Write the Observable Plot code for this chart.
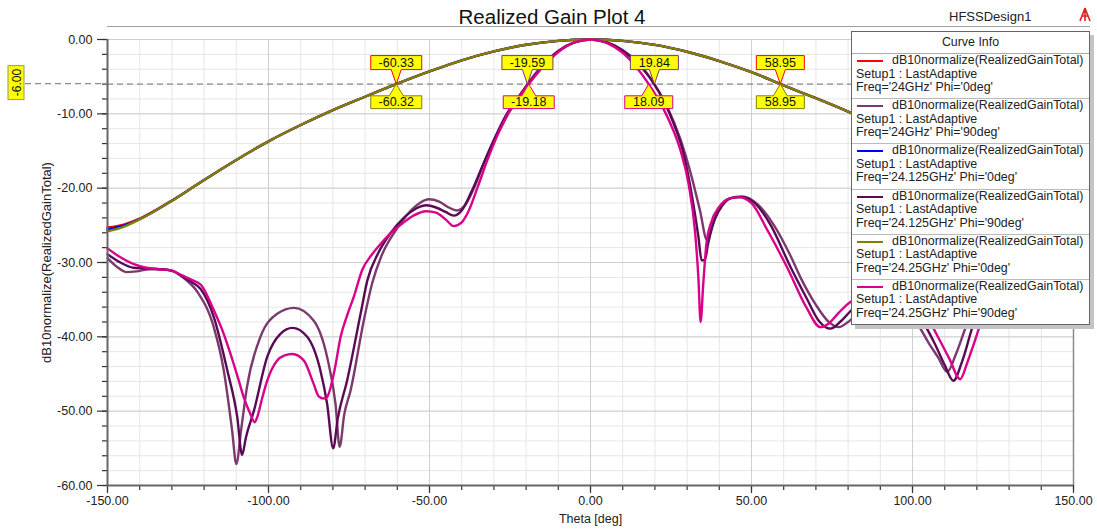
<!DOCTYPE html>
<html><head><meta charset="utf-8">
<script src="https://cdn.jsdelivr.net/npm/d3@7"></script>
<script src="https://cdn.jsdelivr.net/npm/@observablehq/plot@0.6"></script>
<style>
body{margin:0;background:#fff;font-family:"Liberation Sans",Arial,sans-serif;}
#wrap{position:relative;width:1097px;height:529px;overflow:hidden;background:#fff;}
#chart{position:absolute;left:0;top:0;}
#title{position:absolute;top:5px;left:352px;width:400px;text-align:center;font-size:20.5px;line-height:24px;color:#111;}
#design{position:absolute;top:9px;left:949px;font-size:13px;line-height:16px;color:#222;}
#icon{position:absolute;top:7px;left:1078px;}
#legend{position:absolute;left:851px;top:31px;width:237px;border:1px solid #666;background:#fff;box-shadow:4px 4px 0 #c4c4c4;font-size:12.4px;color:#222;}
#legend .hdr{height:21px;line-height:21px;text-align:center;border-bottom:1px solid #aaa;}
#legend .ent{position:relative;height:44.2px;border-bottom:1px solid #bbb;}
#legend .ent:last-child{border-bottom:none;}
#legend .smp{position:absolute;left:5px;top:6px;width:26px;height:2px;}
#legend .l{line-height:13.5px;white-space:nowrap;padding-left:4px;}
#legend .l1{padding-left:40px;}
</style></head><body>
<div id="wrap">
  <div id="chart"></div>
  <div id="title">Realized Gain Plot 4</div>
  <div id="design">HFSSDesign1</div>
  <svg id="icon" width="14" height="16" viewBox="0 0 14 16"><path d="M7 1 L2 14 M7 1 L12 14 M7 1 L7 14 M4 9 L10 9" stroke="#d22" stroke-width="1.6" fill="none"/></svg>
  <div id="legend"></div>
</div>
<script>
// ---------- data ----------
const xMajor = [-150, -100, -50, 0, 50, 100, 150];
const xMinor = d3.range(-150, 151, 10);
const yMajor = [0, -10, -20, -30, -40, -50, -60];
const yMinor = d3.range(-60, 1, 2);
const refLevel = -6;

// Phi = 0 cuts (common theta grid)
const theta0 = [-150,-145,-140,-135,-130,-125,-120,-110,-100,-90,-80,-70,-60,-50,-40,-30,-20,-10,0,10,20,30,40,50,60,70,80,90,100,110,120,130,140,150];
const gain24_phi0 =     [-25.3,-24.9,-24.1,-22.95,-21.65,-20.3,-18.9,-16.2,-13.7,-11.5,-9.5,-7.7,-5.95,-4.3,-2.8,-1.6,-0.7,-0.18,0,-0.18,-0.72,-1.65,-2.9,-4.4,-6.18,-7.9,-9.7,-11.6,-13.8,-16.3,-18.9,-21.7,-24.1,-25.3];
const gain24125_phi0 =  [-25.55,-25.05,-24.15,-23.0,-21.7,-20.3,-18.9,-16.2,-13.7,-11.5,-9.5,-7.7,-5.95,-4.3,-2.8,-1.6,-0.7,-0.18,0,-0.18,-0.72,-1.65,-2.9,-4.4,-6.18,-7.9,-9.7,-11.6,-13.8,-16.3,-18.95,-21.75,-24.2,-25.55];
const gain2425_phi0 =   [-25.8,-25.2,-24.2,-23.0,-21.7,-20.3,-18.9,-16.2,-13.7,-11.5,-9.5,-7.7,-5.95,-4.3,-2.8,-1.6,-0.7,-0.18,0,-0.18,-0.72,-1.65,-2.9,-4.4,-6.18,-7.9,-9.7,-11.6,-13.8,-16.3,-19.0,-21.8,-24.3,-25.8];

// Phi = 90 cuts ([theta, dB])
const gain24_phi90 = [[-150,-29.4],[-147,-30.6],[-144,-31.3],[-141,-31.2],[-137,-30.9],[-133,-30.9],[-129.5,-31.2],[-126,-32.2],[-122,-34.0],[-117,-38.7],[-113.9,-44.5],[-111.3,-52.6],[-110,-57.1],[-108.5,-52.5],[-106.7,-46.8],[-102.5,-40.0],[-97.3,-36.9],[-92.1,-36.1],[-86,-37.8],[-81.8,-42.7],[-79.2,-49.0],[-77.9,-54.8],[-76.5,-50.5],[-74.5,-47.2],[-70.4,-37.8],[-67.8,-32.8],[-65,-29.2],[-61,-26.0],[-57,-23.6],[-53,-22.0],[-50.3,-21.5],[-47,-21.8],[-44,-22.6],[-41.5,-23.0],[-39,-22.3],[-36,-19.8],[-33,-16.5],[-29,-12.8],[-25,-9.6],[-22,-7.7],[-19.59,-6.0],[-15,-3.5],[-10,-1.5],[-5,-0.4],[0,0],[5,-0.35],[10,-1.4],[15,-3.2],[19.84,-6.0],[24,-9.2],[28,-13.5],[31,-17.8],[34,-23],[36.2,-27.0],[38,-24.8],[40,-22.7],[43,-21.4],[47,-21.1],[52,-22.2],[57,-25.0],[62,-29.0],[65.2,-32.0],[70,-35.7],[74,-38.0],[77.1,-38.7],[80,-38.0],[84,-36.4],[88,-35.5],[92,-35.4],[96,-36.2],[101.4,-38.2],[105,-40.8],[108,-42.8],[110.8,-44.7],[113.5,-42.3],[117,-38.2],[121,-34.8],[127,-32.3],[134,-31.0],[142,-30.5],[150,-30.0]];
const gain24125_phi90 = [[-150,-28.9],[-146,-30.0],[-142,-30.7],[-138,-30.8],[-134,-30.9],[-130,-31.1],[-127,-31.8],[-124,-32.6],[-121,-33.6],[-117,-37.3],[-112.8,-44.5],[-109.7,-50.8],[-108.2,-55.9],[-107,-53.5],[-104.5,-49.9],[-100.4,-42.7],[-96.3,-39.6],[-92.6,-38.8],[-88,-40.0],[-83.9,-44.5],[-81.8,-49.0],[-79.9,-55.0],[-78.5,-51],[-75.6,-45.9],[-71.4,-36.9],[-69.3,-32.4],[-66,-28.8],[-62,-26.0],[-58,-24.0],[-54,-22.7],[-51,-22.3],[-48,-22.6],[-45,-23.2],[-42.5,-23.7],[-40,-23.0],[-37,-20.5],[-34,-17.5],[-30,-13.5],[-26,-10.0],[-23,-8.1],[-19.4,-6.0],[-15,-3.7],[-10,-1.6],[-5,-0.4],[0,0],[5,-0.4],[10,-1.5],[15,-3.4],[19,-5.5],[23,-8.5],[26,-11.5],[29,-15.5],[31.5,-21],[33.5,-26.5],[34.5,-29.7],[35.5,-29.7],[36.5,-27.5],[38.5,-24.3],[41,-22.3],[44,-21.3],[47,-21.2],[51,-22.0],[56,-25.0],[62,-30.5],[67,-34.7],[71,-37.9],[74.5,-38.9],[78,-37.8],[82,-36.0],[86,-35.0],[90,-34.6],[94,-35.0],[98,-36.2],[103.5,-38.2],[107,-41],[110,-43.8],[112.7,-45.9],[115.5,-43.2],[119,-38.2],[123,-34.8],[128,-32.4],[134,-31],[141,-30.2],[150,-29.3]];
const gain2425_phi90 = [[-150,-28.1],[-146,-29.3],[-142,-30.2],[-138,-30.7],[-134,-30.9],[-130,-31.1],[-127,-31.7],[-124,-32.3],[-121,-33.0],[-117,-36.4],[-114,-39.5],[-111.8,-42.3],[-109.5,-45.5],[-107.7,-48.1],[-105.5,-50.5],[-104.3,-51.5],[-103.5,-50.8],[-102,-48.3],[-100.4,-45.9],[-97.3,-43.2],[-95,-42.5],[-92.6,-42.3],[-89,-43.2],[-86,-46.3],[-84.4,-48.0],[-82.8,-48.3],[-81.8,-48.1],[-79.5,-44.5],[-77.6,-40.0],[-75.5,-37.0],[-73.5,-34.6],[-70.9,-31.0],[-68,-29.0],[-65,-27.4],[-62,-26.0],[-58,-24.6],[-55,-23.7],[-51,-23.1],[-48,-23.3],[-45,-24.2],[-42.5,-25.1],[-40,-24.6],[-38,-23.2],[-35,-19.8],[-32,-16.2],[-29,-13.0],[-26,-10.3],[-23,-8.2],[-19.18,-6.0],[-15,-3.8],[-10,-1.7],[-5,-0.4],[0,0],[5,-0.45],[10,-1.8],[14,-3.6],[18.09,-6.0],[22,-8.8],[25,-11.5],[28,-15.0],[30.5,-19.5],[32.5,-26],[33.5,-32],[34.2,-38.0],[35,-33],[36,-27.5],[37.5,-24.6],[40,-22.5],[43,-21.4],[46,-21.2],[50,-22.0],[55,-25.7],[61,-30.6],[67,-36.0],[71.4,-38.7],[74,-38.2],[77,-36.8],[80.7,-35.3],[84,-34.6],[88,-34.2],[92,-34.0],[96,-34.3],[100,-35.5],[105.6,-38.2],[108.5,-40.5],[111.5,-43],[114.8,-45.7],[117,-43.5],[119,-41],[121.2,-38.2],[125,-34.5],[130,-32.0],[136,-30.5],[143,-29.6],[150,-28.6]];

const seriesNames = ["Freq='24GHz' Phi='0deg'","Freq='24GHz' Phi='90deg'","Freq='24.125GHz' Phi='0deg'","Freq='24.125GHz' Phi='90deg'","Freq='24.25GHz' Phi='0deg'","Freq='24.25GHz' Phi='90deg'"];
const seriesColors = ["#ff0000","#7b3a6b","#0000ff","#580a55","#808000","#d9008a"];

// markers at the -6 dB level
const markerTheta = [-60.33, -60.32, -19.59, -19.18, 19.84, 18.09, 58.95, 58.95];
const markerLabel = ["-60.33","-60.32","-19.59","-19.18","19.84","18.09","58.95","58.95"];
const markerSeries = [0, 4, 1, 5, 1, 5, 0, 4];
const markerUp = [true, false, true, false, true, false, true, false];

// ---------- build ----------
const phi0Rows = (vals) => theta0.map((t, i) => ({theta: t, db: vals[i]}));
const pairRows = (arr) => arr.map(([t, v]) => ({theta: t, db: v}));
const series = [
  phi0Rows(gain24_phi0), pairRows(gain24_phi90),
  phi0Rows(gain24125_phi0), pairRows(gain24125_phi90),
  phi0Rows(gain2425_phi0), pairRows(gain2425_phi90)
];
const markers = markerTheta.map((t, i) => ({theta: t, db: refLevel, label: markerLabel[i], color: seriesColors[markerSeries[i]], up: markerUp[i]}));

function calloutSym(w, up) {
  const h = w / 2;
  return {draw(ctx) {
    if (up) {
      ctx.moveTo(0,0); ctx.lineTo(5,-14.5); ctx.lineTo(h,-14.5); ctx.lineTo(h,-28.5);
      ctx.lineTo(-h,-28.5); ctx.lineTo(-h,-14.5); ctx.lineTo(-5,-14.5); ctx.closePath();
    } else {
      ctx.moveTo(0,0); ctx.lineTo(7,11.7); ctx.lineTo(h,11.7); ctx.lineTo(h,24.5);
      ctx.lineTo(-h,24.5); ctx.lineTo(-h,11.7); ctx.lineTo(-7,11.7); ctx.closePath();
    }
  }};
}
const markerMarks = [];
for (const up of [true, false]) {
  for (const len of [5, 6]) {
    const sub = markers.filter(d => d.up === up && d.label.length === len);
    if (!sub.length) continue;
    markerMarks.push(Plot.dot(sub, {x: "theta", y: "db", r: 3, symbol: calloutSym(len === 6 ? 51 : 48, up), fill: "#ffff00", stroke: d => d.color, strokeWidth: 1}));
    markerMarks.push(Plot.text(sub, {x: "theta", y: "db", text: "label", dy: up ? -21.5 : 18.2, fill: "#111", fontSize: 12.5}));
  }
}

const lineMarks = series.map((rows, i) => Plot.line(rows, {x: "theta", y: "db", stroke: seriesColors[i], strokeWidth: 2.4, curve: "monotone-x"}));

const chart = Plot.plot({
  width: 1097, height: 529,
  marginLeft: 107, marginRight: 24, marginTop: 39, marginBottom: 44,
  x: {domain: [-150, 150]},
  y: {domain: [-60, 0]},
  color: {type: "identity"},
  style: {fontFamily: "'Liberation Sans', Arial, sans-serif", fontSize: "12.5px", background: "transparent", color: "#333", overflow: "visible"},
  marks: [
    Plot.ruleX(xMinor, {stroke: "#e6e6e6", strokeWidth: 1}),
    Plot.ruleY(yMinor, {stroke: "#e6e6e6", strokeWidth: 1}),
    Plot.ruleX(xMajor, {stroke: "#cfcfcf", strokeWidth: 1}),
    Plot.ruleY(yMajor, {stroke: "#cfcfcf", strokeWidth: 1}),
    Plot.axisY(yMinor, {anchor: "left", tickSize: 5, tickFormat: () => "", label: null, strokeWidth: 1.2}),
    Plot.axisY(yMajor, {anchor: "left", tickSize: 10, tickPadding: 5, tickFormat: d => d.toFixed(2), label: null, strokeWidth: 1.2, fill: "#222", fontSize: 12.5}),
    Plot.axisX(xMinor, {anchor: "bottom", tickSize: 5, tickFormat: () => "", label: null, strokeWidth: 1.2}),
    Plot.axisX(xMajor, {anchor: "bottom", tickSize: 8, tickPadding: 3, tickFormat: d => d.toFixed(2), label: null, strokeWidth: 1.2, fill: "#222", fontSize: 12.5}),
    Plot.ruleX([150], {stroke: "#8a8a8a", strokeWidth: 1.5}),
    Plot.ruleY([refLevel], {stroke: "#8c8c8c", strokeWidth: 1.2, strokeDasharray: "6,4"}),
    ...lineMarks,
    Plot.ruleX([-150], {stroke: "#666", strokeWidth: 2}),
    Plot.ruleY([-60], {stroke: "#666", strokeWidth: 2}),
    ...markerMarks,
    Plot.text(["dB10normalize(RealizedGainTotal)"], {frameAnchor: "left", dx: -61, rotate: -90, textAnchor: "middle", lineAnchor: "middle", fill: "#222", fontSize: 13}),
    Plot.text(["Theta [deg]"], {frameAnchor: "bottom", dy: 33, textAnchor: "middle", lineAnchor: "middle", fill: "#222", fontSize: 12.5})
  ]
});
document.getElementById("chart").appendChild(chart);

// reference-level annotation on the left, placed with the chart's y scale
const ys = chart.scale("y");
const yScale = d3.scaleLinear(ys.domain, ys.range);
const xs = chart.scale("x");
const xScale = d3.scaleLinear(xs.domain, xs.range);
const svg = d3.select(chart);
const y6 = yScale(refLevel);
const ann = svg.append("g");
ann.append("line").attr("x1", 25).attr("x2", xScale(-150)).attr("y1", y6).attr("y2", y6)
  .attr("stroke", "#8c8c8c").attr("stroke-width", 1.2).attr("stroke-dasharray", "6,4");
ann.append("rect").attr("x", 8).attr("y", y6 - 18).attr("width", 16).attr("height", 34)
  .attr("fill", "#ffff00").attr("stroke", "#9a9a60").attr("stroke-width", 1);
ann.append("text").attr("transform", `translate(16.5,${y6 - 1}) rotate(-90)`).attr("text-anchor", "middle")
  .attr("dominant-baseline", "central").attr("font-size", 12).attr("fill", "#111").text(refLevel.toFixed(2));
svg.append("line").attr("x1", xScale(-150)).attr("x2", 1090).attr("y1", 26.5).attr("y2", 26.5)
  .attr("stroke", "#a0a0a0").attr("stroke-width", 1);

// legend
const lg = d3.select("#legend");
lg.append("div").attr("class", "hdr").text("Curve Info");
seriesNames.forEach((n, i) => {
  const e = lg.append("div").attr("class", "ent");
  e.append("div").attr("class", "smp").style("background", seriesColors[i]);
  e.append("div").attr("class", "l l1").text("dB10normalize(RealizedGainTotal)");
  e.append("div").attr("class", "l").text("Setup1 : LastAdaptive");
  e.append("div").attr("class", "l").text(n);
});
</script>
</body></html>
